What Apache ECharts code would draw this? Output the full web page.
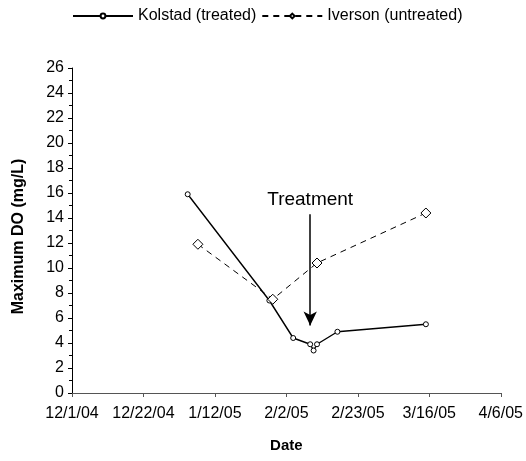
<!DOCTYPE html>
<html>
<head>
<meta charset="utf-8">
<title>Maximum DO</title>
<script src="https://cdn.jsdelivr.net/npm/echarts@6/dist/echarts.min.js"></script>
<style>
  html, body { margin: 0; padding: 0; background: #fff; }
  #chart { width: 526px; height: 461px; }
</style>
</head>
<body>
<div id="chart"></div>
<script>
// sampling dates and values
var kolstadDates = ['2005-01-04', '2005-01-28', '2005-02-04', '2005-02-09', '2005-02-10', '2005-02-11', '2005-02-17', '2005-03-15'];
var kolstadDO = [15.9, 7.4, 4.4, 3.9, 3.4, 3.9, 4.9, 5.5];
var iversonDates = ['2005-01-07', '2005-01-29', '2005-02-11', '2005-03-15'];
var iversonDO = [11.9, 7.5, 10.4, 14.4];
var treatmentDate = '2005-02-09';
var treatmentFromTo = [14.3, 5.4];
var axisStart = '2004-12-01';   // x axis counted in days from here
var tickDays = 21;
var axisDays = 126;

var DAY = 86400000;
function dayOf(s) {
    var p = s.split('-');
    var a = axisStart.split('-');
    return (Date.UTC(+p[0], p[1] - 1, +p[2]) - Date.UTC(+a[0], a[1] - 1, +a[2])) / DAY;
}
function dateLabel(d) {
    var a = axisStart.split('-');
    var t = new Date(Date.UTC(+a[0], a[1] - 1, +a[2]) + d * DAY);
    return (t.getUTCMonth() + 1) + '/' + t.getUTCDate() + '/' + String(t.getUTCFullYear()).slice(2);
}
function pairs(dates, vals) {
    return dates.map(function (d, i) { return [dayOf(d), vals[i]]; });
}

var font = 'Liberation Sans, Arial, sans-serif';
var chart = echarts.init(document.getElementById('chart'));
chart.setOption({
    backgroundColor: '#fff',
    animation: false,
    textStyle: { fontFamily: font },
    legend: {
        left: 67,
        top: 3,
        itemWidth: 60,
        itemHeight: 6,
        itemGap: 5,
        textStyle: { fontSize: 16, color: '#000', fontFamily: font }
    },
    grid: { left: 72, right: 24, top: 68, bottom: 68, containLabel: false },
    xAxis: {
        type: 'value',
        min: 0,
        max: axisDays,
        interval: tickDays,
        name: 'Date',
        nameLocation: 'middle',
        nameGap: 45,
        nameTextStyle: { fontSize: 15, fontWeight: 'bold', color: '#000', fontFamily: font },
        axisLine: { lineStyle: { color: '#555', width: 1 } },
        axisTick: { length: 4, lineStyle: { color: '#555' } },
        axisLabel: { fontSize: 16, color: '#000', margin: 13, fontFamily: font, formatter: function (v) { return dateLabel(v); } },
        splitLine: { show: false }
    },
    yAxis: {
        type: 'value',
        min: 0,
        max: 26,
        interval: 2,
        name: 'Maximum DO (mg/L)',
        nameLocation: 'middle',
        nameGap: 45,
        nameTextStyle: { fontSize: 16, fontWeight: 'bold', color: '#000', fontFamily: font, padding: [0, 12, 0, 0] },
        axisLine: { show: true, lineStyle: { color: '#000', width: 1 } },
        axisTick: { show: true, length: 4, lineStyle: { color: '#000' } },
        minorTick: { show: true, splitNumber: 2, length: 3, lineStyle: { color: '#000' } },
        axisLabel: { fontSize: 16, color: '#000', margin: 8, fontFamily: font },
        splitLine: { show: false }
    },
    series: [
        {
            name: 'Kolstad (treated)',
            type: 'line',
            data: pairs(kolstadDates, kolstadDO),
            symbol: 'circle',
            symbolSize: 5,
            itemStyle: { color: '#fff', borderColor: '#000', borderWidth: 1 },
            lineStyle: { color: '#000', width: 1.4 },
            markLine: {
                silent: true,
                symbol: ['none', 'arrow'],
                symbolSize: [10, 14],
                lineStyle: { color: '#000', width: 1.5, type: 'solid' },
                label: {
                    show: true,
                    position: 'start',
                    distance: 5,
                    formatter: 'Treatment',
                    fontSize: 19,
                    color: '#000',
                    fontFamily: font
                },
                data: [[
                    { coord: [dayOf(treatmentDate), treatmentFromTo[0]] },
                    { coord: [dayOf(treatmentDate), treatmentFromTo[1]] }
                ]]
            }
        },
        {
            name: 'Iverson (untreated)',
            type: 'line',
            data: pairs(iversonDates, iversonDO),
            symbol: 'diamond',
            symbolSize: 10,
            itemStyle: { color: '#fff', borderColor: '#000', borderWidth: 1 },
            lineStyle: { color: '#000', width: 1, type: [6, 5] }
        }
    ]
});
</script>
</body>
</html>
